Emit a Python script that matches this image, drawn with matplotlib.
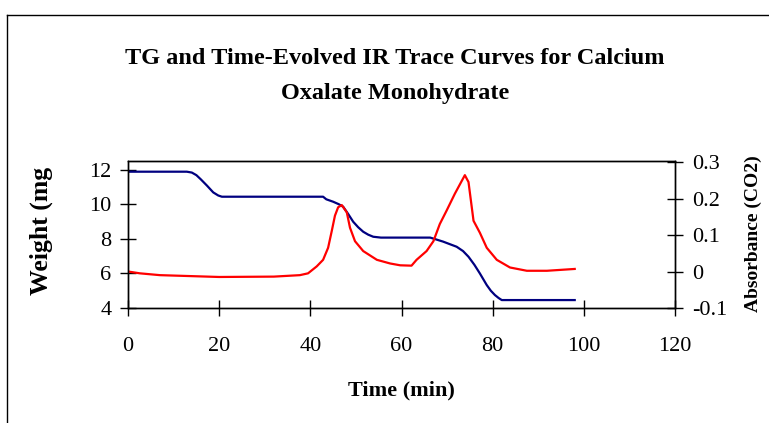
import matplotlib
matplotlib.use("Agg")
import matplotlib.pyplot as plt
from matplotlib.lines import Line2D

# Weight (TG) curve, left axis
tg_time = [0, 12.9, 14, 15, 16, 17.3, 18.7, 19.8, 20.6, 42.8, 43.5, 45, 46.2, 47.2, 48.3, 49.4, 50.5,
           51.6, 52.7, 53.8, 55.5, 66.3, 69.1, 72.1, 73.5, 74.7, 76, 77.2, 78.7, 79.6, 80.5, 81.3, 82, 98]
tg_weight = [11.9, 11.9, 11.85, 11.7, 11.45, 11.1, 10.7, 10.52, 10.45, 10.45, 10.3, 10.16, 10.02, 9.87,
             9.45, 9.0, 8.68, 8.42, 8.25, 8.13, 8.08, 8.08, 7.85, 7.55, 7.3, 6.97, 6.5, 6.0, 5.33,
             5.0, 4.75, 4.58, 4.46, 4.46]

# IR trace (CO2 absorbance), right axis
ir_time = [0, 2.6, 7, 20, 32, 37.7, 39.5, 41.4, 42.8, 43.9, 44.7, 45.4, 46.1, 46.9, 48, 48.7, 49.8,
           51.6, 54.6, 57.5, 59.7, 62.2, 63.3, 65.5, 67, 68.4, 69.9, 71.7, 73.9, 74.7, 75.8, 77.2,
           78.7, 80.9, 83.8, 87.5, 91.9, 98]
ir_abs = [0.0, -0.005, -0.01, -0.015, -0.014, -0.01, -0.005, 0.014, 0.032, 0.065, 0.111, 0.153, 0.176,
          0.182, 0.162, 0.12, 0.083, 0.056, 0.032, 0.022, 0.017, 0.016, 0.032, 0.056, 0.083, 0.13,
          0.167, 0.213, 0.264, 0.245, 0.139, 0.106, 0.065, 0.032, 0.011, 0.002, 0.002, 0.007]

x_ticks = [0, 20, 40, 60, 80, 100, 120]
left_ticks = [4, 6, 8, 10, 12]
right_ticks = [-0.1, 0, 0.1, 0.2, 0.3]
right_labels = ["-0.1", "0", "0.1", "0.2", "0.3"]

serif = ["Liberation Serif", "DejaVu Serif"]
plt.rcParams['font.family'] = serif

W, H = 769, 423
fig = plt.figure(figsize=(W / 100, H / 100), dpi=100)
fig.patch.set_facecolor("white")

# outer border (top and left visible)
fig.add_artist(Line2D([7 / W, 7 / W], [0, 1 - 15 / H], transform=fig.transFigure, color="black", lw=1))
fig.add_artist(Line2D([7 / W, 1], [1 - 15 / H, 1 - 15 / H], transform=fig.transFigure, color="black", lw=1))

left, right, top, bottom = 128, 675, 161, 308
ax = fig.add_axes([left / W, 1 - bottom / H, (right - left) / W, (bottom - top) / H])
ax2 = ax.twinx()

ax.plot(tg_time, tg_weight, color="#000080", lw=1.6)
ax2.plot(ir_time, ir_abs, color="#ff0000", lw=1.6)

ax.set_xlim(0, 120)
ax.set_ylim(4, 12.52)
ax2.set_ylim(-0.1, 0.3 + 0.1 * 1 / 36)

ax.set_xticks(x_ticks)
ax.set_yticks(left_ticks)
ax2.set_yticks(right_ticks)
ax2.set_yticklabels(right_labels)

for a in (ax, ax2):
    for s in a.spines.values():
        s.set_linewidth(1.0)
        s.set_color("black")
ax.tick_params(axis="both", direction="inout", length=12, width=1, labelsize=16, colors="black")
ax.tick_params(axis="x", pad=15)
ax.tick_params(axis="y", pad=6)
ax2.tick_params(axis="y", direction="inout", length=12, width=1, labelsize=16, pad=6)

fig.text(401 / W, 1 - 390 / H, "Time (min)", ha="center", va="center",
         fontsize=16, fontweight="bold")
fig.text(41 / W, 1 - 231 / H, "Weight (mg", ha="center", va="center", rotation=90,
         fontsize=18.5, fontweight="bold")
fig.text(753 / W, 1 - 234 / H, "Absorbance (CO2)", ha="center", va="center", rotation=90,
         fontsize=14, fontweight="bold")

fig.text(395 / W, 1 - 59 / H, "TG and Time-Evolved IR Trace Curves for Calcium",
         ha="center", va="center", fontsize=17.5, fontweight="bold")
fig.text(395 / W, 1 - 93 / H, "Oxalate Monohydrate",
         ha="center", va="center", fontsize=17.5, fontweight="bold")

fig.savefig("out.png", dpi=100)
